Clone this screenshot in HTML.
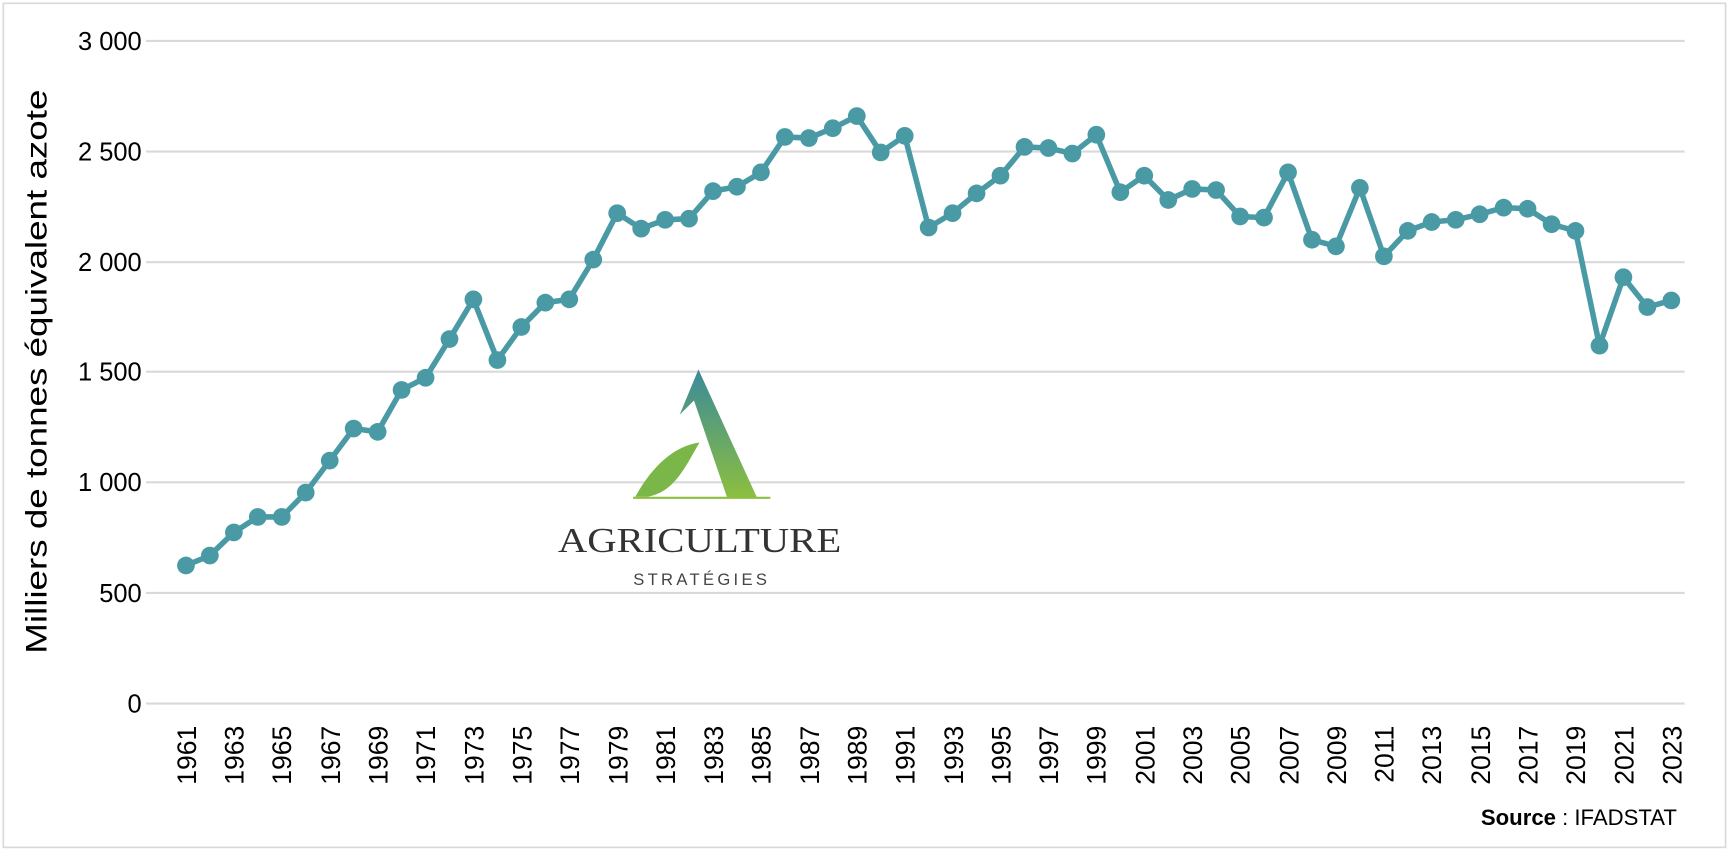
<!DOCTYPE html>
<html><head><meta charset="utf-8"><style>
html,body{margin:0;padding:0;background:#fff;}
svg{display:block;font-family:"Liberation Sans",sans-serif;}
</style></head><body>
<svg width="1730" height="854" viewBox="0 0 1563 772" preserveAspectRatio="none" xmlns="http://www.w3.org/2000/svg">
<defs>
<marker id="m" markerUnits="userSpaceOnUse" markerWidth="20" markerHeight="20" refX="10" refY="10"><circle cx="10" cy="10" r="8" fill="#4a9aa5"/></marker>
<linearGradient id="g" x1="0" y1="0" x2="0" y2="1"><stop offset="0" stop-color="#3a8a9a"/><stop offset="1" stop-color="#8cbf3f"/></linearGradient>
</defs>
<rect x="3" y="3" width="1556" height="763" fill="#fff" stroke="#d9d9d9" stroke-width="1.5"/>
<g stroke="#d9d9d9" stroke-width="2">
<line x1="132" x2="1522" y1="37" y2="37"/><line x1="132" x2="1522" y1="137" y2="137"/>
<line x1="132" x2="1522" y1="237" y2="237"/><line x1="132" x2="1522" y1="336" y2="336"/>
<line x1="132" x2="1522" y1="436" y2="436"/><line x1="132" x2="1522" y1="536" y2="536"/>
<line x1="132" x2="1522" y1="636" y2="636"/>
</g>
<g font-size="23" text-anchor="end">
<text x="128" y="45">3 000</text><text x="128" y="145">2 500</text><text x="128" y="245">2 000</text>
<text x="128" y="344">1 500</text><text x="128" y="444">1 000</text><text x="128" y="544">500</text><text x="128" y="644">0</text>
</g>
<text transform="translate(42,336) rotate(-90)" font-size="27" text-anchor="middle" textLength="510" lengthAdjust="spacingAndGlyphs">Milliers de tonnes équivalent azote</text>
<polygon points="631,334 614,375 627,362 657,450 684,450" fill="url(#g)"/>
<path d="M574,449 C590,420 610,403 632,400 C620,420 610,445 585,449 Z" fill="#7ab648"/>
<line x1="572" y1="450" x2="696" y2="450" stroke="#8cbf3f" stroke-width="2"/>
<text x="632" y="499" style="font-family:'Liberation Serif',serif" font-size="32" text-anchor="middle" fill="#333" textLength="256" lengthAdjust="spacingAndGlyphs">AGRICULTURE</text>
<text x="634" y="529" font-size="15" letter-spacing="3" text-anchor="middle" fill="#444">STRATÉGIES</text>
<polyline fill="none" stroke="#4a9aa5" stroke-width="5" stroke-linejoin="round" marker-start="url(#m)" marker-mid="url(#m)" marker-end="url(#m)" points="168,511.2 189.6,502.2 211.3,481.3 232.9,467.3 254.6,467.3 276.2,445.3 297.9,416.4 319.5,387.4 341.2,390.4 362.8,352.5 384.5,341.5 406.1,306.5 427.7,270.6 449.4,325.5 471,295.6 492.7,273.6 514.3,270.6 536,234.7 557.6,192.7 579.3,206.7 600.9,198.7 622.5,197.7 644.2,172.8 665.8,168.8 687.5,155.8 709.1,123.8 730.8,124.8 752.4,115.9 774.1,104.9 795.7,137.8 817.4,122.8 839,205.7 860.6,192.7 882.3,174.8 903.9,158.8 925.6,132.8 947.2,133.8 968.9,138.8 990.5,121.8 1012.2,173.8 1033.8,158.8 1055.5,180.8 1077.1,170.8 1098.7,171.8 1120.4,195.7 1142,196.7 1163.7,155.8 1185.3,216.7 1207,222.7 1228.6,169.8 1250.3,231.7 1271.9,208.7 1293.5,200.7 1315.2,198.7 1336.8,193.7 1358.5,187.7 1380.1,188.7 1401.8,202.7 1423.4,208.7 1445.1,312.5 1466.7,250.6 1488.3,277.6 1510,271.6"/>
<g font-size="24" text-anchor="end">
<text transform="translate(177,656) rotate(-90)">1961</text>
<text transform="translate(220,656) rotate(-90)">1963</text>
<text transform="translate(263,656) rotate(-90)">1965</text>
<text transform="translate(307,656) rotate(-90)">1967</text>
<text transform="translate(350,656) rotate(-90)">1969</text>
<text transform="translate(393,656) rotate(-90)">1971</text>
<text transform="translate(437,656) rotate(-90)">1973</text>
<text transform="translate(480,656) rotate(-90)">1975</text>
<text transform="translate(523,656) rotate(-90)">1977</text>
<text transform="translate(567,656) rotate(-90)">1979</text>
<text transform="translate(610,656) rotate(-90)">1981</text>
<text transform="translate(653,656) rotate(-90)">1983</text>
<text transform="translate(696,656) rotate(-90)">1985</text>
<text transform="translate(740,656) rotate(-90)">1987</text>
<text transform="translate(783,656) rotate(-90)">1989</text>
<text transform="translate(826,656) rotate(-90)">1991</text>
<text transform="translate(870,656) rotate(-90)">1993</text>
<text transform="translate(913,656) rotate(-90)">1995</text>
<text transform="translate(956,656) rotate(-90)">1997</text>
<text transform="translate(999,656) rotate(-90)">1999</text>
<text transform="translate(1043,656) rotate(-90)">2001</text>
<text transform="translate(1086,656) rotate(-90)">2003</text>
<text transform="translate(1129,656) rotate(-90)">2005</text>
<text transform="translate(1173,656) rotate(-90)">2007</text>
<text transform="translate(1216,656) rotate(-90)">2009</text>
<text transform="translate(1259,656) rotate(-90)">2011</text>
<text transform="translate(1302,656) rotate(-90)">2013</text>
<text transform="translate(1346,656) rotate(-90)">2015</text>
<text transform="translate(1389,656) rotate(-90)">2017</text>
<text transform="translate(1432,656) rotate(-90)">2019</text>
<text transform="translate(1476,656) rotate(-90)">2021</text>
<text transform="translate(1519,656) rotate(-90)">2023</text>
</g>
<text x="1515" y="746" font-size="20" text-anchor="end"><tspan font-weight="bold">Source</tspan> : IFADSTAT</text>
</svg>
</body></html>
